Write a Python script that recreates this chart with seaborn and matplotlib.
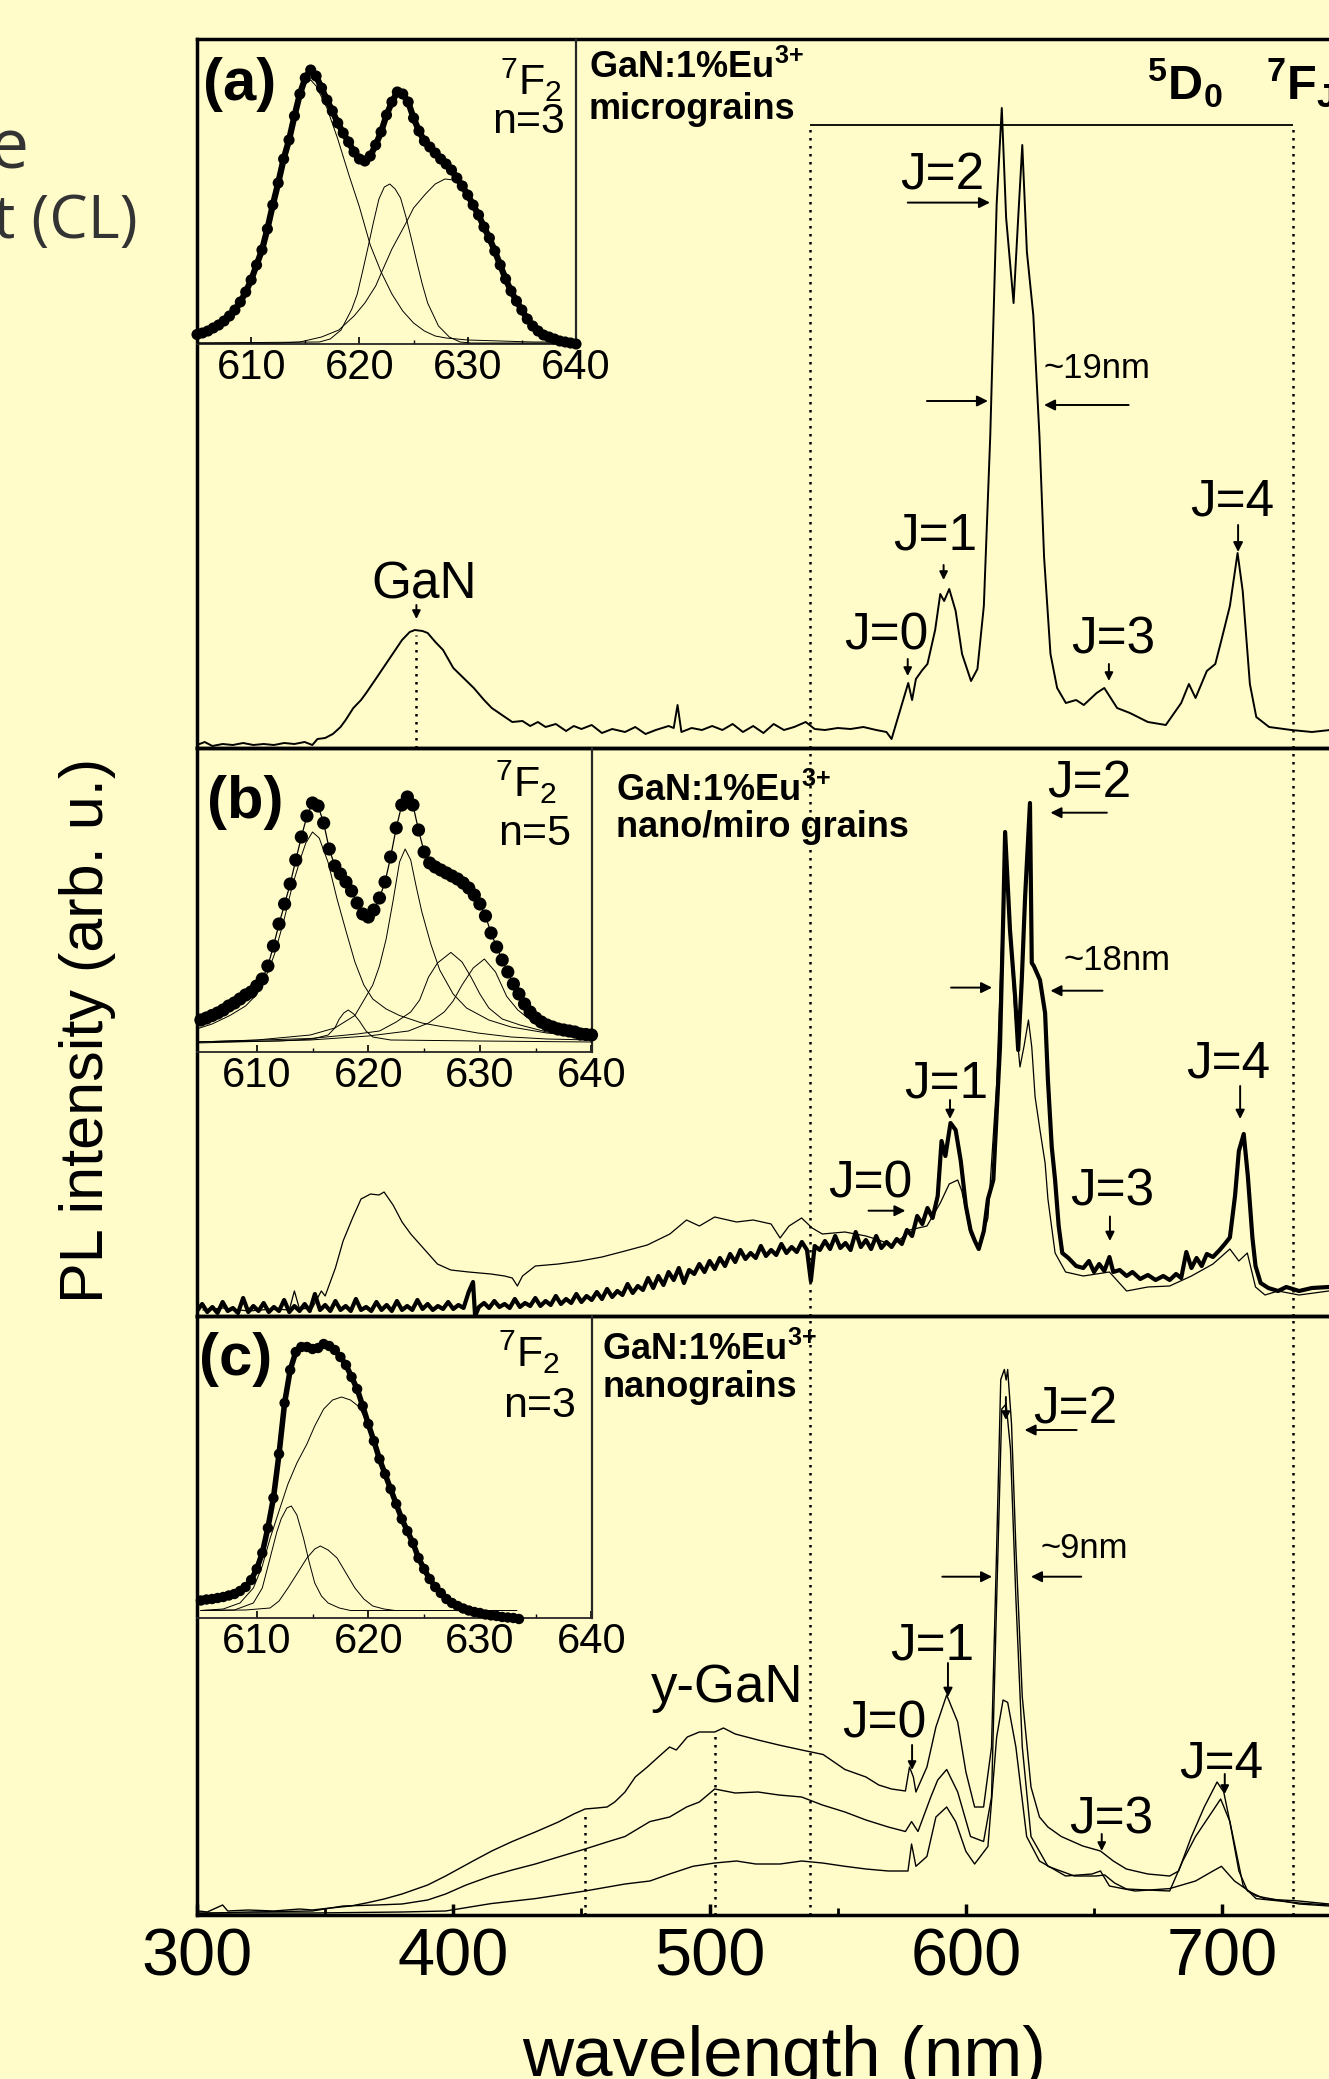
import matplotlib
matplotlib.use("Agg")
import matplotlib.pyplot as plt
from matplotlib import font_manager
from matplotlib.ticker import MultipleLocator, FixedLocator
import seaborn as sns

W, H = 1329, 2079
BG = '#FFFCC9'

# ---------------- panel (a): micrograins, PL spectrum ----------------
a_wl = [300, 303, 306, 310, 314, 318, 322, 326, 330, 334,
        338, 342, 345, 347, 350, 353, 356, 358, 361, 364,
        366, 370, 375, 380, 383, 385, 388, 390, 393, 396,
        400, 404, 408, 412, 415, 419, 423, 427, 430, 433,
        436, 440, 444, 447, 450, 454, 458, 462, 467, 471,
        475, 479, 484, 486, 487.5, 489, 493, 497, 501, 505,
        509, 513, 517, 521, 525, 529, 533, 537.5, 541, 545,
        550, 555, 560, 565, 569, 571, 574, 577.5, 579, 580.5,
        583, 585, 588, 590, 591.5, 593.5, 596, 598.5, 602, 604.5,
        607, 609.5, 612, 614, 615.7, 618.6, 620.4, 622, 623.8, 626.3,
        628.7, 630.5, 633, 635.6, 639, 643, 646, 651, 654, 659,
        664, 671, 678, 684, 687, 689.6, 694, 697.3, 699.7, 703,
        706, 708, 710.8, 713.3, 718.3, 727, 735, 742, 750]
a_int = [3, 6, 2, 4, 3, 5, 3, 4, 3, 5,
         4, 6, 3, 9, 10, 14, 21, 28, 40, 48,
         55, 70, 89, 108, 116, 118, 117, 115, 106, 98,
         80, 70, 60, 48, 40, 33, 26, 27, 22, 26,
         21, 24, 17, 22, 19, 23, 15, 19, 16, 21,
         14, 18, 22, 20, 43, 16, 20, 18, 22, 18,
         24, 16, 22, 15, 24, 18, 21, 26, 19, 18,
         20, 19, 21, 18, 16, 9, 35, 65, 48, 69,
         78, 84, 118, 154, 147, 159, 137, 94, 67, 79,
         142, 312, 544, 640, 530, 445, 530, 603, 496, 433,
         312, 191, 94, 60, 45, 48, 43, 55, 60, 40,
         35, 26, 23, 45, 64, 50, 77, 84, 108, 142,
         195, 157, 64, 31, 21, 18, 16, 18, 17]

# inset (a): 7F2 band, measured points and 3 fitted components
ia_wl = [605.0, 605.5, 606.0, 606.5, 607.0, 607.5, 608.0, 608.5, 609.0, 609.5,
         610.0, 610.5, 611.0, 611.5, 612.0, 612.5, 613.0, 613.5, 614.0, 614.5,
         615.0, 615.5, 616.0, 616.5, 617.0, 617.5, 618.0, 618.5, 619.0, 619.5,
         620.0, 620.5, 621.0, 621.5, 622.0, 622.5, 623.0, 623.5, 624.0, 624.5,
         625.0, 625.5, 626.0, 626.5, 627.0, 627.5, 628.0, 628.5, 629.0, 629.5,
         630.0, 630.5, 631.0, 631.5, 632.0, 632.5, 633.0, 633.5, 634.0, 634.5,
         635.0, 635.5, 636.0, 636.5, 637.0, 637.5, 638.0, 638.5, 639.0, 639.5,
         640.0]
ia_int = [9.5, 11, 13, 16, 19, 23, 28, 34, 42, 52,
          64, 79, 94, 115, 139, 161, 185, 204, 228, 250,
          266, 274, 268, 256, 244, 233, 221, 211, 202, 192,
          185, 183, 188, 199, 212, 229, 242, 252, 250, 242,
          226, 213, 203, 197, 191, 185, 180, 174, 166, 158,
          149, 139, 129, 117, 106, 93, 79, 65, 53, 43,
          34, 25, 18, 13, 9, 7, 5, 3, 2, 1,
          0]
ia_c1_wl = [605, 606, 607, 608, 609, 610, 611, 612, 613, 614, 615, 615.5, 616, 617, 618,
            619, 620, 621, 622, 623, 624, 625, 626, 627, 628, 630, 633, 636, 640]
ia_c1 = [8, 12, 18, 28, 42, 64, 94, 139, 185, 228, 260, 264, 258, 236, 205,
         170, 137, 99, 72, 50, 33, 21, 13, 8, 6, 4, 3, 2, 2]
ia_c2_wl = [605, 616.3, 617.3, 618.3, 619.3, 619.8, 620.3, 620.8, 621.3, 621.8, 622.3, 622.8,
            623.3, 623.8, 624.3, 624.8, 625.3, 625.8, 626.3, 627.3, 628.3, 629.3, 630.3, 640]
ia_c2 = [1, 2, 5, 14, 35, 50, 73, 97, 122, 145, 157, 160,
         155, 146, 127, 105, 82, 60, 41, 18, 7, 2, 1, 1]
ia_c3_wl = [605, 612.5, 614.5, 616.5, 618.1, 619.5, 620.5, 621.5, 622.1, 623, 624.3, 625, 626.1, 627,
            627.9, 628.7, 629.6, 630.5, 631.4, 632.5, 633.2, 634, 635, 636, 636.8, 637.5, 640]
ia_c3 = [1, 1, 2, 7, 14, 28, 41, 58, 73, 95, 121, 136, 150, 160,
         165, 164, 158, 143, 124, 94, 73, 51, 32, 19, 12, 6, 2]

# ---------------- panel (b): nano/micro grains ----------------
b_thin_wl = [302.3, 310, 320, 330, 336, 338, 340, 345, 348.5, 350,
             354, 357, 360.7, 364, 367.7, 371, 373, 376.5, 380, 383.4,
             388.6, 393.8, 399, 406, 414.7, 420, 423, 425, 427, 432,
             441, 449.5, 458, 467, 475.7, 484.5, 491, 496, 502, 510.5,
             517, 524, 527.5, 531, 535.9, 540, 544, 552.8, 561, 566,
             571, 575, 578, 584.8, 590, 593.5, 596.8, 598.4, 601.8, 605,
             608.6, 612, 615.3, 617.2, 619.2, 621.1, 622.7, 624.4, 625.7, 627,
             628.9, 630.9, 632, 634.8, 638.9, 645.8, 656, 662.7, 671, 679.5,
             688, 696.4, 703, 706.5, 709.8, 713, 716.7, 721.8, 730, 741.6,
             750]
b_thin_int = [6, 8, 5, 7, 6, 25, 7, 8, 25, 20,
              48, 75, 98, 117, 122, 121, 124, 111, 94, 82,
              67, 52, 46, 44, 42, 40, 38, 30, 40, 50,
              52, 55, 59, 65, 71, 82, 96, 90, 99, 94,
              96, 92, 78, 90, 98, 88, 82, 84, 80, 76,
              71, 78, 86, 90, 113, 132, 136, 125, 82, 67,
              98, 232, 470, 380, 300, 249, 270, 296, 269, 219,
              186, 153, 117, 63, 44, 40, 44, 25, 29, 30,
              40, 52, 67, 55, 63, 29, 21, 25, 21, 25,
              24]
b_thick_wl = [300, 302, 304, 306, 308, 310, 312, 314, 316, 318,
              320, 322, 324, 326, 328, 330, 332, 334, 336, 338,
              340, 342, 344, 346, 348, 350, 352, 354, 356, 358,
              360, 362, 364, 366, 368, 370, 372, 374, 376, 378,
              380, 382, 384, 386, 388, 390, 392, 394, 396, 398,
              400, 402, 404, 406, 407.7, 408.5, 410, 412, 414, 416,
              418, 420, 422, 424, 426, 428, 430, 432, 434, 436,
              438, 440, 442, 444, 446, 448, 450, 452, 454, 456,
              458, 460, 462, 464, 466, 468, 470, 472, 474, 476,
              478, 480, 482, 484, 486, 488, 490, 492, 494, 496,
              498, 500, 502, 504, 506, 508, 510, 512, 514, 516,
              518, 520, 522, 524, 526, 528, 530, 532, 534, 536,
              538, 539.5, 541, 543, 545, 547, 549, 551, 553, 555,
              557, 559, 561, 563, 565, 567, 569, 571, 573, 575,
              577, 579, 581, 583, 585, 587, 589, 590.5, 592, 594,
              596, 598, 600, 601.8, 603.5, 605, 607, 608.6, 610.7, 613.3,
              614.6, 615.3, 617.2, 619.2, 620.4, 621.8, 623.1, 625, 625.7, 626.5,
              628.9, 630.9, 632, 633.5, 634.8, 636.2, 637.6, 640, 643, 645.8,
              648, 650, 652, 654, 656, 657.5, 660, 662.7, 665, 668,
              671, 674, 677, 679.5, 682, 684, 686, 688, 690, 692,
              694, 696.4, 699, 701, 703, 705, 706.5, 708.4, 710, 711.8,
              713, 715, 718, 721.8, 725, 730, 735, 741.6, 750]
b_thick_int = [5, 12, 4, 9, 3, 14, 5, 8, 3, 18,
               4, 10, 5, 13, 4, 9, 5, 16, 4, 10,
               5, 12, 5, 22, 6, 11, 5, 15, 6, 10,
               5, 17, 6, 9, 5, 14, 6, 11, 5, 15,
               6, 10, 6, 16, 7, 12, 6, 10, 7, 14,
               7, 11, 8, 24, 34, 0, 9, 13, 8, 15,
               9, 12, 8, 17, 9, 13, 10, 18, 10, 15,
               11, 20, 12, 17, 13, 22, 14, 20, 16, 24,
               17, 27, 19, 25, 21, 32, 23, 30, 26, 38,
               28, 40, 31, 44, 36, 48, 33, 46, 42, 52,
               44, 55, 47, 58, 50, 62, 54, 66, 57, 63,
               58, 70, 60, 66, 61, 72, 63, 69, 64, 74,
               66, 35, 70, 66, 75, 67, 80, 68, 73, 66,
               84, 69, 76, 67, 80, 68, 74, 69, 77, 72,
               86, 80, 100, 92, 108, 98, 120, 175, 160, 193,
               186, 155, 110, 86, 75, 67, 85, 117, 136, 269,
               403, 484, 386, 319, 266, 336, 419, 513, 353, 350,
               336, 303, 236, 169, 136, 90, 63, 58, 50, 48,
               55, 44, 52, 45, 59, 44, 46, 40, 44, 37,
               41, 36, 40, 36, 42, 38, 64, 48, 58, 50,
               62, 59, 66, 72, 78.5, 120, 165, 182, 140, 78,
               50, 33, 28, 25, 29, 25, 28, 29, 28]

ib_wl = [605.0, 605.5, 606.0, 606.5, 607.0, 607.5, 608.0, 608.5, 609.0, 609.5,
         610.0, 610.5, 611.0, 611.5, 612.0, 612.5, 613.0, 613.5, 614.0, 614.5,
         615.0, 615.5, 616.0, 616.5, 617.0, 617.5, 618.0, 618.5, 619.0, 619.5,
         620.0, 620.5, 621.0, 621.5, 622.0, 622.5, 623.0, 623.5, 624.0, 624.5,
         625.0, 625.5, 626.0, 626.5, 627.0, 627.5, 628.0, 628.5, 629.0, 629.5,
         630.0, 630.5, 631.0, 631.5, 632.0, 632.5, 633.0, 633.5, 634.0, 634.5,
         635.0, 635.5, 636.0, 636.5, 637.0, 637.5, 638.0, 638.5, 639.0, 639.5,
         640.0]
ib_int = [32, 34, 36.5, 39, 42, 46, 49, 53, 57, 60,
          66, 73, 86, 106, 128, 148, 168, 192, 215, 236,
          249, 246, 229, 203, 186, 178, 170, 161, 149, 138,
          135, 142, 154, 170, 195, 224, 247, 255, 247, 222,
          200, 189, 185, 182, 179, 176, 173, 169, 164, 157,
          148, 136, 119, 105, 92, 80, 68, 58, 48, 40,
          34, 30, 27, 25, 23, 22, 21, 20, 18, 17.5,
          17]
ib_c1_wl = [604.6, 606, 607.6, 609, 610, 611, 611.6, 612.4, 613.2, 614, 614.4, 615, 615.6, 616.4,
            617.2, 618, 618.8, 619.6, 620.4, 621.6, 622.8, 624.8, 626.8, 629.8, 632.8, 636, 640]
ib_c1 = [23, 28, 36.5, 46, 57.5, 80, 98, 130, 166.6, 196, 209, 220, 214, 189.5,
         153, 121, 90, 67, 53, 43, 36.5, 29, 25, 19, 15, 13, 12]
ib_c2_wl = [604.6, 612, 615, 616.4, 617, 617.4, 617.8, 618.2, 618.7, 619.2, 619.8, 620.4, 622, 630, 640]
ib_c2 = [10, 11, 13, 17, 24, 33, 39, 42, 38, 31, 21, 15, 12, 11, 10]
ib_c3_wl = [604.6, 610, 614.8, 617, 618.8, 620.4, 621, 621.6, 622.2, 622.8, 623.3,
            623.8, 624.3, 624.8, 625.6, 626.4, 627.6, 628.8, 630.8, 632.8, 636, 640]
ib_c3 = [10, 12, 17, 24, 36.5, 67, 86, 113, 150, 190, 203,
         192, 165, 140, 108, 82, 58, 44, 32, 25, 19, 15]
ib_c4_wl = [604.6, 614.8, 619, 621, 622.5, 623.8, 624.6, 625.4, 626.2,
            627.4, 628.4, 629.2, 630, 630.8, 632, 633.6, 636, 640]
ib_c4 = [10, 13.5, 18, 21, 30, 40, 52, 75, 89,
         99.6, 90, 75, 58, 44, 33, 27, 20, 15]
ib_c5_wl = [604.6, 614.8, 620, 623.6, 625.4, 626.8, 627.6, 628.4, 629.4,
            630.4, 631.4, 632.4, 633.4, 634.4, 635.6, 636.8, 640]
ib_c5 = [9, 12, 16, 21, 29, 40, 51, 67, 84,
         93, 80, 55.6, 42, 33, 26, 21, 15]

# ---------------- panel (c): nanograins, three spectra ----------------
c1_wl = [300.6, 304, 310, 312, 320, 330, 340, 345, 352, 360,
         366, 373, 380, 390, 397, 402, 407.7, 415, 423, 432,
         441, 447, 451.4, 456, 460, 463, 467, 471, 475.7, 480,
         484.4, 487, 491.3, 496, 502, 505.4, 510, 518.9, 527, 535.9,
         544.3, 552.8, 561, 566, 571, 576.4, 578, 579.5, 580.5, 584.8,
         588.3, 592.5, 596.8, 600, 603.4, 606.9, 610, 612, 613.6, 615,
         615.7, 616.3, 617.8, 619.5, 622, 625.4, 628.7, 632, 637.2, 645.6,
         652.5, 657.5, 662.6, 671, 679.5, 683, 688, 693, 698, 700.6,
         703, 706.5, 709.9, 716.7, 730, 741.7, 750]
c1_int = [4, 3, 10, 4, 5, 4, 6, 5, 7, 9,
          12, 16, 21, 30, 39, 46, 54, 64, 73.5, 83,
          93, 101, 106, 107, 108, 113, 123, 138, 148, 158,
          168, 165, 178, 183, 183, 187, 181, 175, 170, 165,
          160.5, 145.5, 138, 130, 126, 124, 148, 138, 123, 148,
          188, 220, 193, 143, 108, 108, 168, 367, 535.5, 545.5,
          535, 545.5, 491, 367, 218, 128, 98, 88, 78.5, 69,
          64, 54, 46, 41, 39, 44, 78.5, 108, 133, 123,
          93, 44, 24, 16, 14, 11, 10]
c2_wl = [300.6, 320, 345, 357, 370, 380, 390, 397, 405, 414.7,
         423, 432, 441, 451.4, 460, 467, 476.7, 484.4, 491, 496,
         502, 510, 518.9, 527, 535.9, 544, 552.8, 561, 569.7, 576.4,
         578.8, 581.3, 586.3, 589, 592.5, 596.8, 601.8, 606.9, 610, 612,
         614, 615.7, 617.4, 619.5, 622, 625.4, 632, 642.3, 650.8, 654.2,
         658, 662.6, 671, 679.5, 684.6, 689.6, 694.7, 699.4, 703, 708.2,
         713.2, 730, 741.7, 750]
c2_int = [1.5, 3, 4, 9, 10, 11, 15, 21, 30, 39,
          45, 51, 58, 66, 73, 78.5, 93.4, 98, 108, 113,
          126, 122, 123, 120, 118, 110, 103, 95, 88, 83.5,
          93.4, 83.5, 118, 135, 145.5, 123, 78.5, 73.5, 118, 315,
          506, 511, 466, 317, 168, 78.5, 48.7, 39, 39, 40,
          32, 26, 25, 24, 54, 78.5, 98, 116, 93.4, 29,
          16.4, 12, 10, 10]
c3_wl = [300.6, 345, 380, 397, 414.7, 432, 451.4, 467, 476.7, 484.4,
         493.5, 502, 510.5, 518, 527.5, 535.9, 544, 552.8, 561, 569.7,
         577.4, 578.8, 580.5, 584.8, 588.3, 592.5, 596, 600, 603.4, 608.6,
         612, 614.5, 616.3, 619.5, 623.7, 628.7, 638.9, 649.2, 652.5, 656,
         666, 679.5, 689.6, 696.4, 699.7, 704.8, 713.2, 730, 741.7, 750]
c3_int = [2, 2, 3, 4, 11.4, 16.4, 24, 31, 34, 41,
          48.7, 52, 54, 51, 51, 54, 52, 48.7, 46, 44,
          44, 71, 48.7, 58.6, 98, 108, 93.4, 63.6, 51, 68.6,
          178, 215, 212.6, 168, 78.5, 54, 39, 41, 44, 29,
          24, 26.4, 34, 44, 48.7, 34, 19, 11, 9, 9]

ic_wl = [605.0, 605.5, 606.0, 606.5, 607.0, 607.5, 608.0, 608.5, 609.0, 609.5,
         610.0, 610.5, 611.0, 611.5, 612.0, 612.5, 613.0, 613.5, 614.0, 614.5,
         615.0, 615.5, 616.0, 616.5, 617.0, 617.5, 618.0, 618.5, 619.0, 619.5,
         620.0, 620.5, 621.0, 621.5, 622.0, 622.5, 623.0, 623.5, 624.0, 624.5,
         625.0, 625.5, 626.0, 626.5, 627.0, 627.5, 628.0, 628.5, 629.0, 629.5,
         630.0, 630.5, 631.0, 631.5, 632.0, 632.5, 633.0, 633.5]
ic_int = [17.5, 18.5, 19, 20, 21, 22.5, 24, 27, 31, 38,
          49, 65, 90, 120, 164, 215, 248, 266, 271, 271,
          269, 270, 274, 272, 268, 261, 253, 241, 229, 212,
          194, 177, 159, 144, 129, 114, 99, 87, 75, 60,
          49, 39, 31, 25, 19, 15, 12, 9.5, 7.5, 6,
          5, 3.5, 2.6, 2, 1, 0.5, 0, -1]
ic_c1_wl = [605, 607, 608.5, 609.7, 610.5, 611.2, 612, 612.8, 613.6, 614.5, 615.2, 616, 616.8, 617.6, 618.4,
            619.2, 620, 620.8, 621.6, 622.4, 623.2, 624, 624.8, 625.6, 626.4, 627.2, 628.4, 629.6, 633.3]
ic_c1 = [7.5, 9, 15, 30, 52, 79.6, 107, 134, 155, 174, 192, 209, 218, 221, 218,
         211, 192, 169, 144, 119, 96, 74.6, 55, 37, 24, 15, 10, 7.5, 7.5]
ic_c2_wl = [605, 608, 609.7, 610.5, 611.2, 611.8, 612.2, 612.7, 613.1,
            613.6, 614.2, 614.7, 615.2, 615.8, 616.4, 617.4, 618.4, 633.3]
ic_c2 = [7.5, 8, 15, 30, 60, 86, 99.4, 110, 112,
         103, 79.6, 56, 35, 22, 15, 10, 7.5, 7.5]
ic_c3_wl = [605, 609, 611.2, 612, 612.8, 613.6, 614.5, 615.2, 615.7,
            616.4, 617.2, 618, 618.8, 619.6, 620.4, 621.4, 622.4, 633.3]
ic_c3 = [7.5, 8, 10, 17, 30, 44, 60, 69, 72,
         68, 60, 45, 30, 19, 12, 9, 7.5, 7.5]

band_lines = [539, 727.5]   # dotted limits of the 5D0 -> 7FJ region
x_ticks = [300, 400, 500, 600, 700]
inset_ticks = [610, 620, 630, 640]


def fx(px):
    return px / W


def fy(py):
    return 1 - py / H


def trace(ax, x, y, lw, z=3):
    sns.lineplot(x=x, y=y, ax=ax, color='black', lw=lw, estimator=None,
                 sort=False, zorder=z)


def arrow(ax, x0, y0, x1, y1, ms=16, lw=1.4):
    ax.annotate('', xy=(x1, y1), xytext=(x0, y0),
                arrowprops=dict(arrowstyle='-|>', color='black', lw=lw,
                                mutation_scale=ms, shrinkA=0, shrinkB=0))


def dotted(ax, x, y0, y1):
    ax.vlines(x, y0, y1, colors='black', linestyles=(0, (1, 2.2)), lw=1.8, zorder=2)


def main_axes(top, bottom):
    ax = fig.add_axes([fx(197), fy(bottom), 500 * 2.563 / W, (bottom - top) / H])
    ax.set_facecolor('none')
    ax.set_xlim(300, 800)
    ax.set_ylim(0, bottom - top)
    for sp in ax.spines.values():
        sp.set_linewidth(2.5)
        sp.set_color('black')
    ax.tick_params(left=False, labelleft=False, bottom=False, labelbottom=False)
    return ax


def inset(top, bottom, right, xmin):
    ins = fig.add_axes([fx(197), fy(bottom), (right - 197) / W, (bottom - top) / H])
    ins.set_facecolor('none')
    ins.set_xlim(xmin, 640)
    ins.set_ylim(0, bottom - top)
    ins.spines[['top', 'left']].set_visible(False)
    ins.spines['right'].set_linewidth(1.6)
    ins.spines['bottom'].set_linewidth(1.3)
    ins.xaxis.set_major_locator(FixedLocator(inset_ticks))
    ins.xaxis.set_minor_locator(FixedLocator([615, 625, 635]))
    ins.tick_params(axis='x', which='major', direction='in', length=5, width=1.2,
                    labelsize=30, pad=3)
    ins.tick_params(axis='x', which='minor', direction='in', length=3, width=1.0)
    ins.tick_params(axis='y', left=False, labelleft=False)
    return ins


def finish(ax):
    ax.set_xlabel('')
    ax.set_ylabel('')


sns.set_theme(style='ticks')
plt.rcParams['font.family'] = ['Liberation Sans', 'DejaVu Sans']
plt.rcParams.update({
    'mathtext.fontset': 'custom',
    'mathtext.rm': 'Liberation Sans',
    'mathtext.bf': 'Liberation Sans:bold',
    'mathtext.it': 'Liberation Sans:italic',
    'mathtext.default': 'regular',
    'text.color': 'black',
    'xtick.color': 'black',
})

fig = plt.figure(figsize=(W / 100, H / 100), dpi=100, facecolor=BG)

ax_a = main_axes(39, 748)
ax_b = main_axes(748, 1316)
ax_c = main_axes(1316, 1915)

J = dict(fontsize=37, ha='center', va='baseline')
TAG = dict(fontsize=26, fontweight='bold', ha='left', va='baseline')
EU = r'GaN:1%Eu$^{\mathbf{3}{\mathbf{+}}}$'
PANEL = dict(fontsize=43, fontweight='bold', ha='center', va='center')

# ---- (a)
trace(ax_a, a_wl, a_int, 1.4)
ax_a.hlines(623, band_lines[0], band_lines[1], colors='black', lw=1.3)
for x in band_lines:
    dotted(ax_a, x, 0, 623)
dotted(ax_a, 385.6, 0, 113)
ax_a.text(316.8, 663, '(a)', **PANEL)
ax_a.text(442.4, 652.5, r'$^{7}$F$_{2}$', fontsize=31, ha='right', va='baseline')
ax_a.text(443.6, 615, 'n=3', fontsize=31, ha='right', va='baseline')
ax_a.text(452.9, 670.4, EU, **TAG)
ax_a.text(452.9, 629, 'micrograins', **TAG)
ax_a.text(670.7, 648, r'$^{\mathbf{5}}$D$_{\mathbf{0}}$', fontsize=35,
          fontweight='bold', ha='left', va='baseline')
ax_a.text(717.0, 648, r'$^{\mathbf{7}}$F$_{\mathbf{J}}$', fontsize=35,
          fontweight='bold', ha='left', va='baseline')
ax_a.text(590.7, 559, 'J=2', **J)
arrow(ax_a, 577.3, 545.4, 609.4, 545.4)
ax_a.text(651.1, 370, '~19nm', fontsize=25, ha='center', va='baseline')
arrow(ax_a, 584.8, 347, 608.6, 347)
arrow(ax_a, 663.5, 343, 630.5, 343)
ax_a.text(588, 198, 'J=1', **J)
arrow(ax_a, 591.3, 183, 591.3, 168, ms=12)
ax_a.text(568.8, 98, 'J=0', **J)
arrow(ax_a, 577.3, 89, 577.3, 72, ms=12)
ax_a.text(657.4, 94, 'J=3', **J)
arrow(ax_a, 655.8, 84, 655.8, 67, ms=12)
ax_a.text(703.8, 232, 'J=4', **J)
arrow(ax_a, 706.2, 223, 706.2, 196, ms=14)
ax_a.text(388.6, 149.4, 'GaN', fontsize=37, ha='center', va='baseline')
arrow(ax_a, 385.6, 143, 385.6, 129, ms=12)
finish(ax_a)

# ---- (b)
trace(ax_b, b_thin_wl, b_thin_int, 0.9, z=3)
trace(ax_b, b_thick_wl, b_thick_int, 3.0, z=4)
for x in band_lines:
    dotted(ax_b, x, 0, 568)
ax_b.text(318.9, 513, '(b)', **PANEL)
ax_b.text(440.5, 519, r'$^{7}$F$_{2}$', fontsize=31, ha='right', va='baseline')
ax_b.text(445.9, 471, 'n=5', fontsize=31, ha='right', va='baseline')
ax_b.text(463.5, 515, EU, **TAG)
ax_b.text(463.5, 479, 'nano/miro grains', **TAG)
ax_b.text(648.2, 518.6, 'J=2', **J)
arrow(ax_b, 655, 503.3, 633, 503.3)
ax_b.text(659.1, 346.4, '~18nm', fontsize=25, ha='center', va='baseline')
arrow(ax_b, 594.2, 328.4, 610.2, 328.4)
arrow(ax_b, 653.3, 325.3, 633, 325.3)
ax_b.text(592.5, 218, 'J=1', **J)
arrow(ax_b, 593.8, 216, 593.8, 197, ms=13)
ax_b.text(562.6, 119, 'J=0', **J)
arrow(ax_b, 562, 105.3, 576.4, 105.3)
ax_b.text(657, 111, 'J=3', **J)
arrow(ax_b, 656.2, 99.5, 656.2, 75, ms=13)
ax_b.text(702.3, 239, 'J=4', **J)
arrow(ax_b, 707, 230, 707, 197, ms=13)
finish(ax_b)

# ---- (c)
trace(ax_c, c1_wl, c1_int, 1.0)
trace(ax_c, c2_wl, c2_int, 1.0)
trace(ax_c, c3_wl, c3_int, 1.0)
for x in band_lines:
    dotted(ax_c, x, 0, 599)
dotted(ax_c, 451.5, 0, 103)
dotted(ax_c, 502, 0, 183)
ax_c.text(315, 555.5, '(c)', **PANEL)
ax_c.text(441.6, 548, r'$^{7}$F$_{2}$', fontsize=31, ha='right', va='baseline')
ax_c.text(447.9, 498, 'n=3', fontsize=31, ha='right', va='baseline')
ax_c.text(458.2, 555, EU, **TAG)
ax_c.text(458.2, 518, 'nanograins', **TAG)
ax_c.text(642.6, 491, 'J=2', **J)
arrow(ax_c, 643.2, 485, 622.9, 485)
arrow(ax_c, 615.6, 518, 615.6, 495, ms=12)
ax_c.text(646.1, 357, '~9nm', fontsize=25, ha='center', va='baseline')
arrow(ax_c, 590.8, 338.3, 610.2, 338.3)
arrow(ax_c, 645, 338.3, 625.4, 338.3)
ax_c.text(587, 255, 'J=1', **J)
arrow(ax_c, 593, 252, 593, 218, ms=13)
ax_c.text(568, 178, 'J=0', **J)
arrow(ax_c, 579, 170, 579, 145, ms=12)
ax_c.text(506.7, 213, 'y-GaN', fontsize=38, ha='center', va='baseline')
ax_c.text(656.6, 81, 'J=3', **J)
arrow(ax_c, 653, 81, 653, 64, ms=12)
ax_c.text(699.8, 138, 'J=4', **J)
arrow(ax_c, 701, 141, 701, 121, ms=12)
finish(ax_c)
ax_c.xaxis.set_major_locator(FixedLocator(x_ticks))
ax_c.xaxis.set_minor_locator(FixedLocator([350, 450, 550, 650]))
ax_c.tick_params(axis='x', which='major', bottom=True, labelbottom=True,
                 direction='in', length=8, width=2.5, labelsize=48, pad=9)
ax_c.tick_params(axis='x', which='minor', bottom=True, direction='in',
                 length=5, width=2)

# ---- insets with the 7F2 band and its fitted components
ins_a = inset(39, 344, 576, 605.0)
trace(ins_a, ia_c1_wl, ia_c1, 0.7)
trace(ins_a, ia_c2_wl, ia_c2, 0.7)
trace(ins_a, ia_c3_wl, ia_c3, 0.7)
trace(ins_a, ia_wl, ia_int, 4.5, z=4)
sns.scatterplot(x=ia_wl, y=ia_int, ax=ins_a, color='black', s=64,
                edgecolor='none', zorder=5, clip_on=False)
finish(ins_a)

ins_b = inset(748, 1052, 591.5, 604.65)
for xs, ys in [(ib_c1_wl, ib_c1), (ib_c2_wl, ib_c2), (ib_c3_wl, ib_c3),
               (ib_c4_wl, ib_c4), (ib_c5_wl, ib_c5)]:
    trace(ins_b, xs, ys, 0.7)
trace(ins_b, ib_wl, ib_int, 0.9, z=4)
sns.scatterplot(x=ib_wl, y=ib_int, ax=ins_b, color='black', s=90,
                edgecolor='none', zorder=5, clip_on=False)
finish(ins_b)

ins_c = inset(1316, 1618, 591.5, 604.65)
trace(ins_c, ic_c1_wl, ic_c1, 0.7)
trace(ins_c, ic_c2_wl, ic_c2, 0.7)
trace(ins_c, ic_c3_wl, ic_c3, 0.7)
trace(ins_c, ic_wl, ic_int, 4.0, z=4)
sns.scatterplot(x=ic_wl, y=ic_int, ax=ins_c, color='black', s=56,
                edgecolor='none', zorder=5, clip_on=False)
finish(ins_c)

# ---- axis titles (placed in figure pixels; the x title is cut by the bottom edge)
fig.text(fx(784), fy(2076), 'wavelength (nm)', fontsize=51, ha='center', va='baseline')

names = {f.name for f in font_manager.fontManager.ttflist}
if 'Liberation Sans Narrow' in names:
    ylab_font, ylab_size = 'Liberation Sans Narrow', 54
else:
    ylab_font, ylab_size = 'Liberation Sans', 44
fig.text(fx(88), fy(1030), 'PL intensity (arb. u.)', rotation=90, ha='center',
         va='center', fontsize=ylab_size, family=ylab_font)

# ---- bits of slide text that show at the left edge
fig.text(fx(29), fy(167), 'luminescence', fontsize=50, family='Open Sans',
         color='#333333', ha='right', va='baseline')
fig.text(fx(138), fy(237.5), 'light (CL)', fontsize=44, family='Open Sans',
         color='#333333', ha='right', va='baseline')

fig.savefig('out.png', dpi=100, facecolor=BG)
